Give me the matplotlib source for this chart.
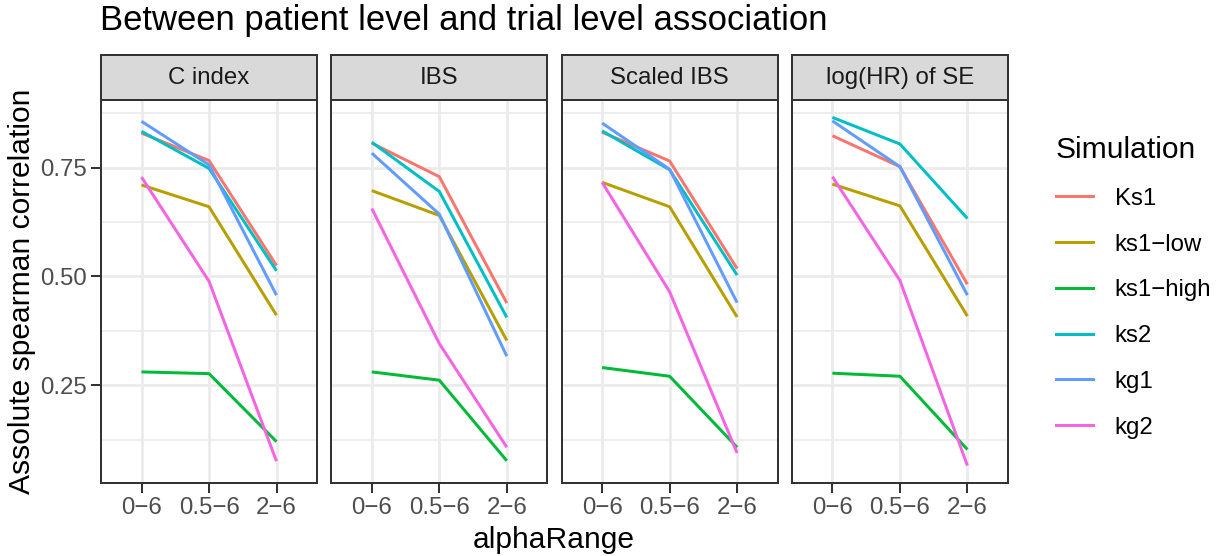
import matplotlib
matplotlib.use("Agg")
import matplotlib.pyplot as plt
from matplotlib.patches import Rectangle
from matplotlib.lines import Line2D
import numpy as np

plt.rcParams['font.family'] = ['Liberation Sans', 'DejaVu Sans']

# ---------------- data ----------------
panels = ["C index", "IBS", "Scaled IBS", "log(HR) of SE"]
alpha_levels = ["0\u22126", "0.5\u22126", "2\u22126"]
series_names = ["Ks1", "ks1\u2212low", "ks1\u2212high", "ks2", "kg1", "kg2"]
colors = ["#F8766D", "#B79F00", "#00BA38", "#00BFC4", "#619CFF", "#F564E3"]

c_index = {
    "Ks1":  [0.829, 0.766, 0.525],
    "ks1-low": [0.710, 0.660, 0.411],
    "ks1-high": [0.281, 0.277, 0.121],
    "ks2": [0.833, 0.748, 0.513],
    "kg1": [0.856, 0.756, 0.457],
    "kg2": [0.728, 0.489, 0.076],
}
ibs = {
    "Ks1":  [0.806, 0.729, 0.439],
    "ks1-low": [0.697, 0.640, 0.353],
    "ks1-high": [0.281, 0.262, 0.077],
    "ks2": [0.808, 0.695, 0.406],
    "kg1": [0.783, 0.643, 0.317],
    "kg2": [0.656, 0.346, 0.108],
}
scaled_ibs = {
    "Ks1":  [0.831, 0.765, 0.518],
    "ks1-low": [0.716, 0.660, 0.407],
    "ks1-high": [0.291, 0.271, 0.108],
    "ks2": [0.834, 0.745, 0.503],
    "kg1": [0.852, 0.746, 0.440],
    "kg2": [0.716, 0.465, 0.095],
}
log_hr_se = {
    "Ks1":  [0.823, 0.752, 0.482],
    "ks1-low": [0.712, 0.662, 0.409],
    "ks1-high": [0.278, 0.271, 0.103],
    "ks2": [0.865, 0.804, 0.633],
    "kg1": [0.857, 0.752, 0.457],
    "kg2": [0.729, 0.491, 0.066],
}
series_keys = ["Ks1", "ks1-low", "ks1-high", "ks2", "kg1", "kg2"]
panel_data = [c_index, ibs, scaled_ibs, log_hr_se]
y_ticks = [0.25, 0.50, 0.75]
y_minor = [0.125, 0.375, 0.625, 0.875]

# ---------------- layout ----------------
W, H = 1219, 556
DPI = 100
fig = plt.figure(figsize=(W / DPI, H / DPI), dpi=DPI)
fig.patch.set_facecolor("white")

def px(v):
    return v * 72.0 / DPI

panel_left0 = 101
panel_step = 230.3
panel_w = 216
panel_top = 100
panel_bottom = 483
strip_h = 45

allvals = np.concatenate([np.array(list(d.values())).ravel() for d in panel_data])
vmin, vmax = allvals.min(), allvals.max()
rng = vmax - vmin
ylim = (vmin - 0.05 * rng, vmax + 0.05 * rng)

grey20 = "#333333"
grey30 = "#4D4D4D"
grid_c = "#EBEBEB"

axes = []
for i, (pname, data) in enumerate(zip(panels, panel_data)):
    left = panel_left0 + i * panel_step
    ax = fig.add_axes([left / W, 1 - panel_bottom / H, panel_w / W, (panel_bottom - panel_top) / H])
    axes.append(ax)
    x = np.arange(len(alpha_levels))
    # grids
    for yv in y_minor:
        ax.axhline(yv, color=grid_c, lw=px(1.6), zorder=0)
    for yv in y_ticks:
        ax.axhline(yv, color=grid_c, lw=px(2.7), zorder=0)
    for xv in x:
        ax.axvline(xv, color=grid_c, lw=px(2.7), zorder=0)
    for key, col in zip(series_keys, colors):
        ax.plot(x, data[key], color=col, lw=px(3.0), zorder=2, solid_capstyle="butt")
    ax.set_xlim(-0.6, 2.6)
    ax.set_ylim(*ylim)
    ax.set_xticks(x)
    ax.set_xticklabels(alpha_levels)
    ax.set_yticks(y_ticks)
    if i == 0:
        ax.set_yticklabels(["0.25", "0.50", "0.75"])
        ax.tick_params(axis="y", length=7, width=px(2), color=grey20,
                       labelsize=px(24), labelcolor=grey30, pad=3)
    else:
        ax.tick_params(axis="y", length=0, labelleft=False)
    ax.tick_params(axis="x", length=7, width=px(2), color=grey20,
                   labelsize=px(24), labelcolor=grey30, pad=3)
    for s in ax.spines.values():
        s.set_color(grey20)
        s.set_linewidth(px(2))
    # strip
    sh = strip_h / (panel_bottom - panel_top)
    rect = Rectangle((0, 1), 1, sh, transform=ax.transAxes, facecolor="#D9D9D9",
                     edgecolor=grey20, lw=px(2), clip_on=False, zorder=3)
    ax.add_patch(rect)
    ax.text(0.5, 1 + sh / 2, pname, transform=ax.transAxes, ha="center", va="center",
            fontsize=px(24), color="#1A1A1A", zorder=4)

# titles
fig.text(100 / W, 1 - 30 / H, "Between patient level and trial level association",
         ha="left", va="baseline", fontsize=px(34.7), color="black")
fig.text(554 / W, 1 - 540 / H, "alphaRange", ha="center", va="center",
         fontsize=px(30), color="black")
fig.text(22 / W, 1 - 291 / H, "Assolute spearman correlation", ha="center", va="center",
         rotation=90, fontsize=px(30), color="black")

# legend
handles = [Line2D([0], [0], color=c, lw=px(3.0)) for c in colors]
leg = fig.legend(handles, series_names, loc="upper left",
                 bbox_to_anchor=(1056 / W, 1 - 136 / H), frameon=False,
                 fontsize=px(24), title="Simulation", title_fontsize=px(30),
                 handlelength=1.55, handletextpad=0.9, labelspacing=0.99,
                 borderpad=0, borderaxespad=0, alignment="left")

fig.savefig("out.png", dpi=DPI, facecolor="white")
